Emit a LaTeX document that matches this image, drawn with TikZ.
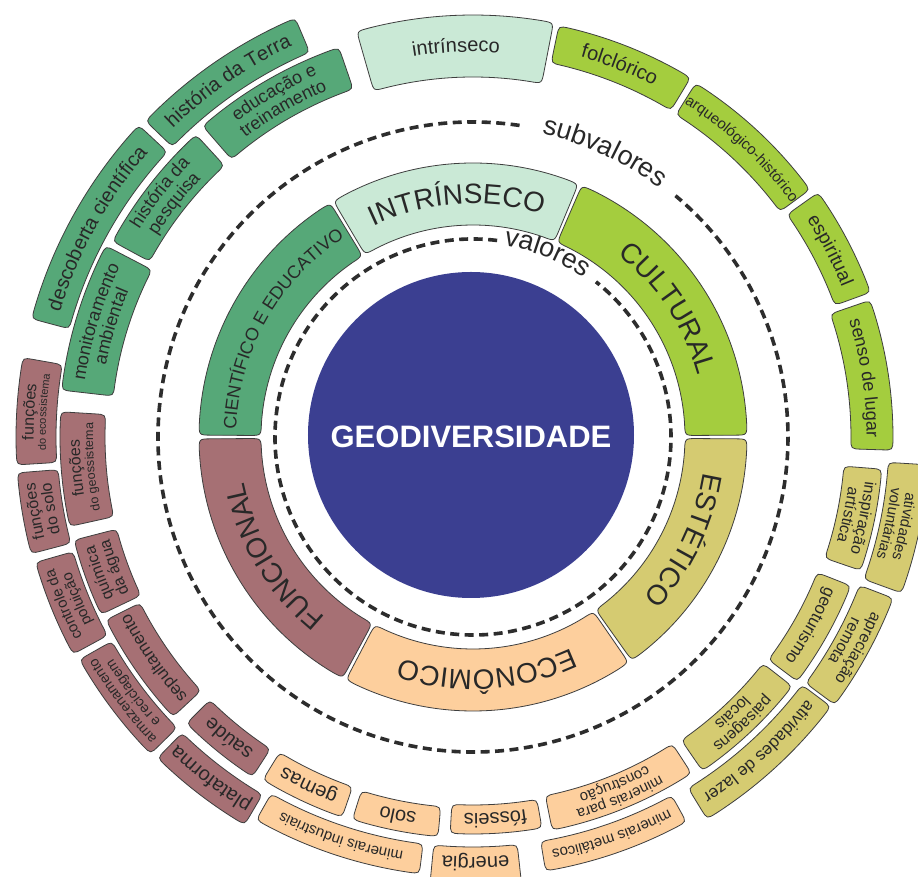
\documentclass[tikz,border=0pt]{standalone}
\usepackage{fontspec}
\setmainfont{Liberation Sans}
\usetikzlibrary{decorations.text}
\definecolor{blueC}{RGB}{59,63,145}
\definecolor{greenC}{RGB}{86,168,120}
\definecolor{mintC}{RGB}{202,233,214}
\definecolor{limeC}{RGB}{164,205,62}
\definecolor{oliveC}{RGB}{213,203,113}
\definecolor{peachC}{RGB}{253,207,157}
\definecolor{mauveC}{RGB}{166,112,116}
\definecolor{lineC}{RGB}{62,62,62}
\definecolor{dashC}{RGB}{45,45,45}
\definecolor{txtC}{RGB}{40,40,40}
\tikzset{
  boxline/.style={draw=lineC, line width=0.8pt},
  dashline/.style={draw=dashC, line width=3.6pt, dash pattern=on 9pt off 5.5pt},
}
% rounded annular sector: fill, a1, a2, r1, r2, corner
\newcommand\rsec[6]{%
  \pgfmathsetmacro\rsDI{#6/#4*57.2958}%
  \pgfmathsetmacro\rsDO{#6/#5*57.2958}%
  \pgfmathsetmacro\rsAIs{#2+\rsDI}\pgfmathsetmacro\rsAIe{#3-\rsDI}%
  \pgfmathsetmacro\rsAOs{#3-\rsDO}\pgfmathsetmacro\rsAOe{#2+\rsDO}%
  \pgfmathsetmacro\rsRIp{#4+#6}\pgfmathsetmacro\rsROm{#5-#6}%
  \draw[boxline, fill=#1] (\rsAIs:#4pt) arc[start angle=\rsAIs, end angle=\rsAIe, radius=#4pt]
    .. controls (#3:#4pt) .. (#3:\rsRIp pt) -- (#3:\rsROm pt)
    .. controls (#3:#5pt) .. (\rsAOs:#5pt) arc[start angle=\rsAOs, end angle=\rsAOe, radius=#5pt]
    .. controls (#2:#5pt) .. (#2:\rsROm pt) -- (#2:\rsRIp pt)
    .. controls (#2:#4pt) .. (\rsAIs:#4pt) -- cycle;%
}
% text along a clockwise arc: mid angle, baseline radius, size, text
\newcommand\arctext[4]{%
  \def\curfont{\fontsize{#3}{#3}\selectfont\color{txtC}}%
  \pgfmathsetmacro\atS{#1+60}\pgfmathsetmacro\atE{#1-60}%
  \path[decorate, decoration={text along path, text align=center, text={|\curfont|#4}}]
    (\atS:#2pt) arc[start angle=\atS, end angle=\atE, radius=#2pt];%
}
\newcommand\arcone[4]{%
  \pgfmathsetmacro\rbO{#2-0.3*#3}%
  \arctext{#1}{\rbO}{#3}{#4}%
}
\newcommand\arctwo[6]{%
  \pgfmathsetmacro\rbA{#2+0.25*(#3+#5)-0.28*#3}%
  \pgfmathsetmacro\rbB{#2-0.25*(#3+#5)-0.28*#5}%
  \arctext{#1}{\rbA}{#3}{#4}%
  \arctext{#1}{\rbB}{#5}{#6}%
}
\begin{document}
\begin{tikzpicture}[x=1pt,y=1pt]
\useasboundingbox (-473,-440) rectangle (445,437);
\clip (-473,-440) rectangle (445,437);
\fill[white] (-473,-440) rectangle (445,437);

% centre
\fill[blueC] (-2,2) circle[radius=163pt];
\node[text=white, font=\bfseries\fontsize{31}{31}\selectfont, inner sep=0] (geo) at (-2,0) {GEODIVERSIDADE};

% dashed circles
\draw[dashline] (83:198pt) arc[start angle=83, end angle=411.6, radius=198pt];
\draw[dashline] (81.5:315pt) arc[start angle=81.5, end angle=410, radius=315pt];
\arctext{68}{194}{27}{valores}
\arctext{65.2}{311}{27}{subvalores}

% inner ring (valores)
\rsec{limeC}{0.4}{66.6}{212}{274}{12}
\rsec{mintC}{67.4}{120.6}{212}{274}{12}
\rsec{greenC}{121.4}{179.6}{212}{274}{12}
\rsec{mauveC}{180.4}{241.6}{212}{274}{12}
\rsec{peachC}{242.4}{304.6}{212}{274}{12}
\rsec{oliveC}{305.4}{359.6}{212}{274}{12}
\arctext{33.5}{233}{28}{CULTURAL}
\arctext{94}{233}{28}{INTRÍNSECO}
\arctext{150.5}{237}{18}{CIENTÍFICO E EDUCATIVO}
\arctext{211}{233}{28}{FUNCIONAL}
\arctext{273.5}{233}{28}{ECONÔMICO}
\arctext{334}{233}{28}{ESTÉTICO}

% intrinseco
\rsec{mintC}{79}{106}{360}{422}{12}
\arcone{92.5}{391}{20}{intrínseco}

% cultural
\rsec{limeC}{58.8}{78.2}{382}{420}{11}
\arcone{68.5}{401}{20}{folclórico}
\rsec{limeC}{36.3}{57.8}{381}{418}{11}
\arcone{47}{399.5}{15}{arqueológico-histórico}
\rsec{limeC}{20}{35.3}{385}{423}{11}
\arcone{27.6}{404}{19}{espiritual}
\rsec{limeC}{-1.8}{19}{378}{420}{11}
\arcone{8.6}{399}{18}{senso de lugar}

% estetico
\rsec{oliveC}{-19}{-4.5}{372}{410}{11}
\arctwo{-11.75}{391}{16}{inspiração}{16}{artística}
\rsec{oliveC}{-37}{-21.5}{370}{406}{11}
\arcone{-29.25}{388}{17}{geoturismo}
\rsec{oliveC}{-55.5}{-38}{368}{405}{11}
\arctwo{-46.75}{386.5}{16}{paisagens}{16}{locais}
\rsec{oliveC}{-20}{-3.5}{416}{456}{11}
\arctwo{-11.75}{433}{15}{atividades}{15}{voluntárias}
\rsec{oliveC}{-36.5}{-21}{414}{450}{11}
\arctwo{-28.75}{432}{16}{apreciação}{16}{remota}
\rsec{oliveC}{-58.5}{-37}{412}{448}{11}
\arcone{-47.75}{430}{17}{atividades de lazer}

% economico
\rsec{peachC}{-121.5}{-109}{370}{402}{11}
\arcone{-115.25}{386}{20}{gemas}
\rsec{peachC}{-107.5}{-95}{371}{401}{11}
\arcone{-101.25}{386}{20}{solo}
\rsec{peachC}{-93.3}{-80}{368}{397}{11}
\arcone{-86.65}{382.5}{20}{fósseis}
\rsec{peachC}{-78.6}{-57}{366}{401}{11}
\arctwo{-67.8}{383.5}{15}{minerais para}{15}{construção}
\rsec{peachC}{-119.5}{-97}{410}{440}{11}
\arcone{-108.25}{425}{15}{minerais industriais}
\rsec{peachC}{-95.5}{-83.8}{410}{452}{11}
\arcone{-89.65}{426}{20}{energia}
\rsec{peachC}{-80.5}{-61}{410}{440}{11}
\arcone{-70.75}{425}{15}{minerais metálicos}

% funcional
\rsec{mauveC}{170}{183.5}{417}{457}{11}
\arctwo{176.75}{437}{16}{funções}{11}{do ecossistema}
\rsec{mauveC}{176.5}{192.5}{368}{413}{11}
\arctwo{184.5}{390.5}{16}{funções}{12.5}{do geossistema}
\rsec{mauveC}{184.5}{194.8}{416}{457}{11}
\arctwo{189.65}{436.5}{16}{funções}{16}{do solo}
\rsec{mauveC}{194.5}{205.5}{368}{412}{11}
\arctwo{200}{390}{16}{química}{16}{da água}
\rsec{mauveC}{196}{208.5}{416}{455}{11}
\arctwo{202.25}{435.5}{15}{controle da}{15}{poluição}
\rsec{mauveC}{206.5}{223}{372}{410}{11}
\arcone{214.75}{391}{17}{sepultamento}
\rsec{mauveC}{209.5}{224.5}{415}{452}{11}
\arctwo{217}{433.5}{14}{armazenamento}{14}{e reciclagem}
\rsec{mauveC}{225}{237}{372}{405}{11}
\arcone{231}{388.5}{20}{saúde}
\rsec{mauveC}{225.5}{239.5}{415}{450}{11}
\arcone{232.5}{432.5}{20}{plataforma}

% cientifico
\rsec{greenC}{152.5}{173.5}{362}{414}{11}
\arctwo{163}{388}{18}{monitoramento}{18}{ambiental}
\rsec{greenC}{132.5}{151.5}{368}{410}{11}
\arctwo{142}{389}{18}{história da}{18}{pesquisa}
\rsec{greenC}{109}{131}{368}{412}{11}
\arctwo{120}{390}{18}{educação e}{18}{treinamento}
\rsec{greenC}{113}{136}{418}{455}{11}
\arcone{124.5}{436.5}{20}{história da Terra}
\rsec{greenC}{137}{165}{418}{457}{11}
\arcone{151}{437.5}{20}{descoberta científica}
\end{tikzpicture}
\end{document}
